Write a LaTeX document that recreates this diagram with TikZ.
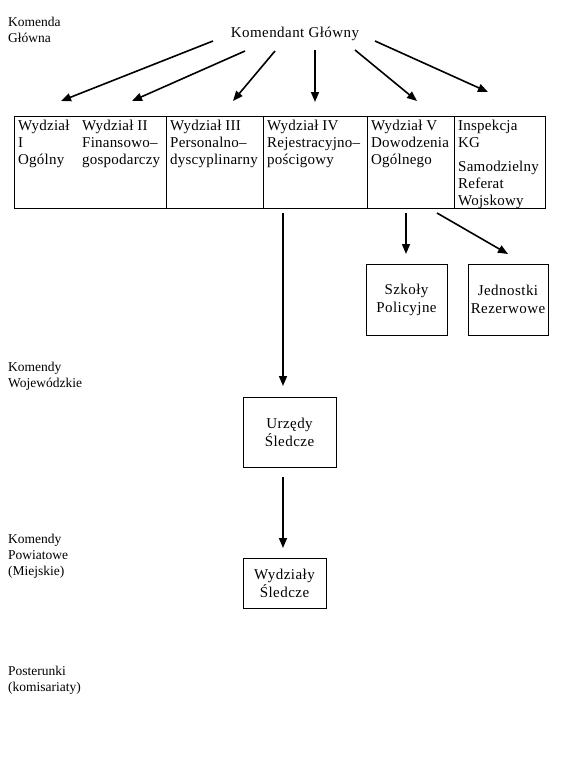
\documentclass[tikz,border=0pt]{standalone}
\usepackage{fontspec}
\setmainfont{Liberation Serif}
\newfontfamily\spacedserif[LetterSpace=3]{Liberation Serif}
\newfontfamily\lightspaced[LetterSpace=1.5]{Liberation Serif}
\usetikzlibrary{arrows.meta}
\begin{document}
\begin{tikzpicture}[x=1pt,y=-1pt,
  main/.style={font=\lightspaced\fontsize{15}{17}\selectfont, inner sep=0pt, align=left},
  head/.style={font=\spacedserif\fontsize{15}{17}\selectfont, inner sep=0pt},
  side/.style={font=\fontsize{13.5}{16}\selectfont, inner sep=0pt, align=left, anchor=west},
  cell/.style={draw, line width=0.8pt, anchor=north west, inner sep=0pt, minimum height=92pt},
  celltxt/.style={main, anchor=north west},
  box/.style={draw, line width=0.8pt, inner sep=0pt, align=center, font=\spacedserif\fontsize{15}{18}\selectfont},
  arr/.style={line width=1.6pt, -{Triangle[length=10pt,width=8pt]}}]
\useasboundingbox (0,0) rectangle (579,772);
\fill[white] (0,0) rectangle (579,772);

% side labels
\node[side] (lkg) at (8,30) {Komenda\\Główna};
\node[side] (lkw) at (8,376) {Komendy\\Wojewódzkie};
\node[side] (lkp) at (8,556) {Komendy\\Powiatowe\\(Miejskie)};
\node[side] (lpo) at (8,680) {Posterunki\\(komisariaty)};

% top
\node[head] (k) at (295,34) {Komendant Główny};

% table cells
\node[cell, minimum width=152pt] (c12) at (14,116) {};
\node[cell, minimum width=97pt] (c3) at (166,116) {};
\node[cell, minimum width=104pt] (c4) at (263,116) {};
\node[cell, minimum width=87pt] (c5) at (367,116) {};
\node[cell, minimum width=91pt] (c6) at (454,116) {};

\node[celltxt] (t1) at (18,119.5) {Wydział\\I\\Ogólny};
\node[celltxt] (t2) at (82,119.5) {Wydział II\\Finansowo–\\gospodarczy};
\node[celltxt] (t3) at (170,119.5) {Wydział III\\Personalno–\\dyscyplinarny};
\node[celltxt] (t4) at (267,119.5) {Wydział IV\\Rejestracyjno–\\pościgowy};
\node[celltxt] (t5) at (371,119.5) {Wydział V\\Dowodzenia\\Ogólnego};
\node[celltxt] (t6) at (458,119.5) {Inspekcja\\KG};
\node[celltxt] (t7) at (458,161) {Samodzielny\\Referat\\Wojskowy};

% boxes
\node[box, minimum width=81pt, minimum height=71pt] (szk) at (406.5,299.5) {Szkoły\\Policyjne};
\node[box, minimum width=80pt, minimum height=71pt] (jed) at (508,299.5) {Jednostki\\Rezerwowe};
\node[box, minimum width=93pt, minimum height=70pt] (urz) at (289.5,432) {Urzędy\\Śledcze};
\node[box, minimum width=83pt, minimum height=50pt] (wyd) at (284.5,583) {Wydziały\\Śledcze};

% arrow end points
\coordinate (s1) at (213,41);  \coordinate (e1) at (61,101);
\coordinate (s2) at (245,51);  \coordinate (e2) at (132,101);
\coordinate (s3) at (275,51);  \coordinate (e3) at (233,101);
\coordinate (s4) at (315,50);  \coordinate (e4) at (315,102);
\coordinate (s5) at (355,50);  \coordinate (e5) at (417,101);
\coordinate (s6) at (375,41);  \coordinate (e6) at (488,92);
\coordinate (s7) at (283,213); \coordinate (e7) at (283,386);
\coordinate (s8) at (283,477); \coordinate (e8) at (283,548);
\coordinate (s9) at (406,213); \coordinate (e9) at (406,254);
\coordinate (s10) at (437,213); \coordinate (e10) at (508,254);

\foreach \i in {1,...,10} {\draw[arr] (s\i) -- (e\i);}
\end{tikzpicture}
\end{document}
